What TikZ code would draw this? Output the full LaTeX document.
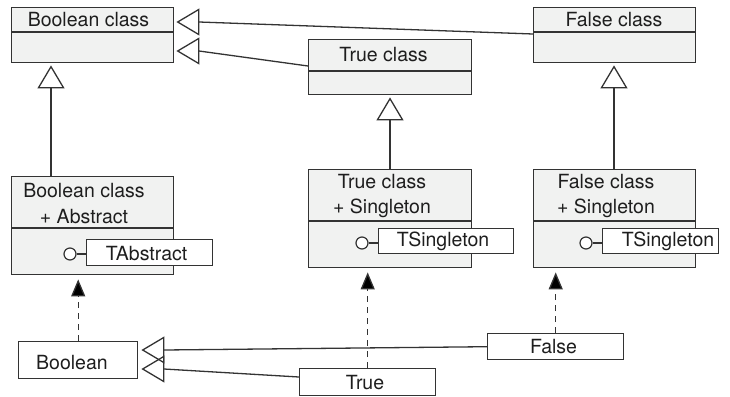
\documentclass[tikz,border=0pt]{standalone}
\usepackage{fontspec}
\setmainfont{TeX Gyre Heros}
\usetikzlibrary{arrows.meta}
\definecolor{linec}{HTML}{333333}
\definecolor{clsfill}{HTML}{F1F2F1}
\definecolor{textc}{HTML}{1E1E1E}
\tikzset{
  cls/.style={draw=linec, fill=clsfill, line width=1.4pt, inner sep=0pt, anchor=north west},
  plainbox/.style={draw=linec, fill=white, line width=1.4pt, inner sep=0pt, anchor=north west},
  txt/.style={font=\fontsize{19.5}{22}\selectfont, text=textc, inner sep=0pt, anchor=base},
  divider/.style={draw=linec, line width=1.4pt},
  inh/.style={draw=linec, line width=1.3pt, -{Triangle[open, length=23pt, width=27pt, line width=1.3pt]}, shorten >=2pt},
  real/.style={draw=linec, line width=1.3pt, dash pattern=on 6pt off 5pt, -{Triangle[length=17pt, width=14pt, fill=black]}, shorten >=4pt},
  lolli/.style={circle, draw=linec, fill=white, line width=1.2pt, minimum size=12pt, inner sep=0pt},
  conn/.style={draw=linec, line width=1.3pt}
}
\begin{document}
\begin{tikzpicture}[x=1pt,y=-1pt]
\useasboundingbox (0,0) rectangle (730,396);

% top classes
\node[cls, minimum width=162pt, minimum height=55pt] (BC) at (11,7) {};
\draw[divider] (11,32) -- (173,32);
\node[txt] (BCt) at (88.5,27) {Boolean class};

\node[cls, minimum width=162pt, minimum height=55pt] (FC) at (533,7) {};
\draw[divider] (533,32) -- (695,32);
\node[txt] (FCt) at (614,27) {False class};

\node[cls, minimum width=163pt, minimum height=55pt] (TC) at (308,39) {};
\draw[divider] (308,71) -- (471,71);
\node[txt] (TCt) at (383.5,62) {True class};

% middle classes
\node[cls, minimum width=162pt, minimum height=98pt] (BA) at (11,176) {};
\draw[divider] (11,228) -- (173,228);
\node[txt] (BAt1) at (84,197) {Boolean class};
\node[txt] (BAt2) at (84,223) {+ Abstract};

\node[cls, minimum width=163pt, minimum height=98pt] (TS) at (308,169) {};
\draw[divider] (308,221) -- (471,221);
\node[txt] (TSt1) at (382,188) {True class};
\node[txt] (TSt2) at (382,213) {+ Singleton};

\node[cls, minimum width=162pt, minimum height=98pt] (FS) at (533,169) {};
\draw[divider] (533,221) -- (695,221);
\node[txt] (FSt1) at (606,188) {False class};
\node[txt] (FSt2) at (606,213) {+ Singleton};

% interfaces
\node[plainbox, minimum width=126pt, minimum height=26pt] (TA) at (86,239) {};
\node[txt] (TAt) at (146.5,260) {TAbstract};
\node[lolli] (LA) at (70,254) {};
\draw[conn] (LA) -- (TA.west |- LA);

\node[plainbox, minimum width=135pt, minimum height=25pt] (TT) at (378,228) {};
\node[txt] (TTt) at (443,246) {TSingleton};
\node[lolli] (LT) at (362,243) {};
\draw[conn] (LT) -- (TT.west |- LT);

\node[plainbox, minimum width=116pt, minimum height=25pt] (TF) at (602,228) {};
\node[txt] (TFt) at (668,246) {TSingleton};
\node[lolli] (LF) at (586,243) {};
\draw[conn] (LF) -- (TF.west |- LF);

% bottom objects
\node[plainbox, minimum width=119pt, minimum height=37pt] (Bo) at (18,341) {};
\node[txt] (Bot) at (72,369) {Boolean};
\node[plainbox, minimum width=136pt, minimum height=27pt] (Tr) at (299,368) {};
\node[txt] (Trt) at (365,389) {True};
\node[plainbox, minimum width=136pt, minimum height=26pt] (Fa) at (487,333) {};
\node[txt] (Fat) at (553.5,353) {False};

% generalizations
\draw[inh] (BA.north -| 51,0) -- (BC.south -| 51,0);
\draw[inh] (TS.north -| 390,0) -- (TC.south -| 390,0);
\draw[inh] (FS.north -| 614,0) -- (FC.south -| 614,0);
\draw[inh] (FC.west |- 0,34) -- (199,22) -- (BC.east |- 0,22);
\draw[inh] (TC.west |- 0,66) -- (199,51) -- (BC.east |- 0,51);
\draw[inh, shorten >=3pt] (Fa.west) -- (164,350) -- (Bo.east |- 0,350);
\draw[inh, shorten >=3pt] (Tr.west |- 0,377) -- (164,369) -- (Bo.east |- 0,369);

% realizations
\draw[real] (Bo.north) -- (BA.south -| Bo.north);
\draw[real] (Tr.north) -- (TS.south -| Tr.north);
\draw[real] (Fa.north) -- (FS.south -| Fa.north);
\end{tikzpicture}
\end{document}
